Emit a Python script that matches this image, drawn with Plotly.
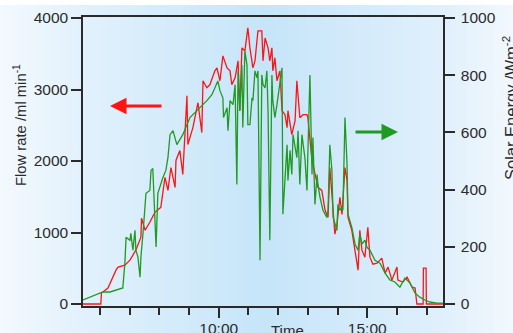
import plotly.graph_objects as go

# ---------------- data ----------------
flow_time = [5.43, 6.03, 6.05, 6.27, 6.54, 6.61, 6.84, 7.01, 7.21, 7.38, 7.40, 7.52, 7.68, 7.85, 8.05,
             8.19, 8.29, 8.39, 8.53, 8.56, 8.69, 8.79, 8.93, 8.96, 9.13, 9.30, 9.43, 9.47, 9.60, 9.70,
             9.87, 9.94, 10.04, 10.14, 10.28, 10.38, 10.44, 10.55, 10.65, 10.71, 10.78, 10.88, 10.98,
             11.05, 11.15, 11.22, 11.32, 11.45, 11.49, 11.56, 11.66, 11.72, 11.79, 11.82, 11.89, 11.96,
             12.06, 12.13, 12.23, 12.30, 12.33, 12.46, 12.57, 12.63, 12.73, 12.84, 12.97, 13.00, 13.14,
             13.24, 13.34, 13.47, 13.58, 13.68, 13.74, 13.81, 13.91, 13.98, 14.08, 14.15, 14.25, 14.32,
             14.35, 14.48, 14.59, 14.69, 14.75, 14.82, 14.92, 15.02, 15.09, 15.19, 15.33, 15.49, 15.60,
             15.70, 15.83, 16.00, 16.03, 16.20, 16.34, 16.51, 16.61, 16.67, 16.88, 16.89, 16.98, 16.99,
             17.55]
flow_rate = [0, 0, 153, 223, 474, 516, 544, 613, 753, 934, 1199, 1031, 1143, 1282, 1352,
             1770, 1589, 1909, 1631, 2007, 2146, 1812, 2913, 2230, 2467, 2815, 2397, 3122, 3024, 3066,
             3261, 3303, 3122, 3470, 3303, 3261, 3066, 3164, 3401, 2704, 3582, 3540, 3861,
             3582, 3303, 3401, 3819, 3819, 3401, 3721, 3582, 3401, 3582, 3261, 3442, 3122,
             3261, 2704, 2648, 2467, 2704, 2369, 2564, 3122, 2606, 2648, 2648, 2606, 2007,
             1812, 1631, 1589, 1310, 1213, 1909, 1533, 976, 1115, 1491, 1254, 1909, 1728,
             1213, 1031, 753, 474, 1031, 753, 655, 1073, 655, 557, 571, 641, 432,
             516, 334, 516, 334, 307, 376, 237, 223, 0, 0, 502, 502, 0,
             0]

solar_time = [5.43, 5.66, 5.87, 6.10, 6.34, 6.54, 6.77, 6.84, 6.88, 7.01,
              7.04, 7.11, 7.18, 7.21, 7.28, 7.35, 7.38, 7.45, 7.52, 7.55,
              7.68, 7.72, 7.78, 7.85, 7.89, 7.95, 8.05, 8.12, 8.22, 8.29,
              8.36, 8.46, 8.59, 8.79, 9.03, 9.13, 9.37, 9.60, 9.77, 9.97,
              10.04, 10.14, 10.16, 10.28, 10.31, 10.38, 10.48, 10.55, 10.61, 10.65,
              10.71, 10.78, 10.81, 10.88, 10.95, 10.98, 11.05, 11.12, 11.15, 11.22,
              11.29, 11.32, 11.39, 11.45, 11.49, 11.56, 11.62, 11.66, 11.72, 11.79,
              11.82, 11.89, 11.96, 11.99, 12.13, 12.16, 12.23, 12.30, 12.33, 12.40,
              12.46, 12.50, 12.63, 12.67, 12.73, 12.80, 12.90, 12.97, 13.00, 13.07,
              13.14, 13.17, 13.24, 13.31, 13.34, 13.41, 13.51, 13.64, 13.68, 13.74,
              13.81, 13.85, 13.98, 14.01, 14.08, 14.15, 14.18, 14.25, 14.32, 14.35,
              14.48, 14.59, 14.69, 14.75, 14.82, 14.92, 14.99, 15.09, 15.26, 15.43,
              15.60, 15.76, 15.93, 16.10, 16.27, 16.44, 16.61, 16.77, 16.94, 17.11,
              17.35, 17.55]
solar_energy = [14, 24, 31, 42, 42, 49, 56, 143, 233, 223,
                247, 188, 258, 188, 164, 94, 164, 247, 352, 387,
                397, 467, 474, 303, 199, 387, 422, 442, 467, 512,
                592, 606, 557, 592, 652, 662, 686, 711, 732, 780,
                746, 721, 652, 686, 606, 711, 697, 767, 418, 815,
                676, 836, 617, 885, 836, 627, 627, 721, 711, 815,
                791, 815, 153, 801, 767, 756, 815, 676, 223, 801,
                711, 652, 697, 721, 826, 314, 418, 557, 432, 537,
                453, 592, 512, 606, 418, 592, 512, 397, 523, 801,
                453, 582, 348, 453, 418, 373, 328, 303, 328, 557,
                467, 303, 258, 348, 328, 338, 328, 652, 488, 314,
                268, 209, 188, 244, 209, 223, 199, 188, 153, 143,
                108, 84, 77, 59, 91, 73, 38, 24, 14, 7,
                3, 3]

left_ticks = [0, 1000, 2000, 3000, 4000]
right_ticks = [0, 200, 400, 600, 800, 1000]
x_major = [10, 15]
x_major_text = ["10:00", "15:00"]
x_minor = [6, 7, 8, 9, 11, 12, 13, 14, 16, 17]

# ---------------- layout constants ----------------
W, H = 513, 333
ML, MR, MT, MB = 83, 70, 17, 27
PW, PH = W - ML - MR, H - MT - MB
FONT = "Arial, 'Liberation Sans', Helvetica, sans-serif"
TXT = "#2b2b2b"
AX = "#2a2a2a"

def px2paper_x(px):
    return (px - ML) / PW

def py2paper_y(py):
    return (H - MB - py) / PH

# horizontal background gradient (styling only)
stops = [(0, (243, 249, 254)), (83, (226, 241, 252)), (265, (198, 229, 249)),
         (443, (224, 240, 252)), (513, (242, 248, 254))]

def grad(px):
    for (a, ca), (b, cb) in zip(stops[:-1], stops[1:]):
        if a <= px <= b:
            t = (px - a) / (b - a)
            return tuple(round(ca[i] + (cb[i] - ca[i]) * t) for i in range(3))
    return stops[-1][1]

shapes = []
step = 3
for px in range(0, W, step):
    c = grad(px + step / 2)
    shapes.append(dict(type="rect", xref="paper", yref="paper", layer="below",
                       x0=px2paper_x(px), x1=px2paper_x(px + step + 0.6),
                       y0=py2paper_y(H + 2), y1=py2paper_y(5),
                       fillcolor="rgb(%d,%d,%d)" % c, line=dict(width=0)))

fig = go.Figure()
fig.add_trace(go.Scatter(x=flow_time, y=flow_rate, mode="lines", yaxis="y",
                         line=dict(color="#ff1414", width=1.3), showlegend=False))
fig.add_trace(go.Scatter(x=solar_time, y=solar_energy, mode="lines", yaxis="y2",
                         line=dict(color="#1f9a22", width=1.3), showlegend=False))

annotations = [
    # red arrow -> left axis
    dict(xref="paper", yref="paper", x=px2paper_x(110), y=py2paper_y(106),
         ax=53, ay=0, axref="pixel", ayref="pixel", text="", showarrow=True,
         arrowhead=2, arrowsize=1.1, arrowwidth=3, arrowcolor="#ff1414", standoff=0),
    # green arrow -> right axis
    dict(xref="paper", yref="paper", x=px2paper_x(398), y=py2paper_y(132),
         ax=-44, ay=0, axref="pixel", ayref="pixel", text="", showarrow=True,
         arrowhead=2, arrowsize=1.1, arrowwidth=3, arrowcolor="#1f9a22", standoff=0),
    dict(xref="paper", yref="paper", x=px2paper_x(287), y=py2paper_y(330),
         text="Time", showarrow=False, font=dict(family=FONT, size=15, color=TXT),
         xanchor="center", yanchor="middle"),
    dict(xref="paper", yref="paper", x=px2paper_x(20), y=py2paper_y(125),
         text="Flow rate /ml min<sup>-1</sup>", showarrow=False, textangle=-90,
         font=dict(family=FONT, size=14.8, color=TXT), xanchor="center", yanchor="middle"),
    dict(xref="paper", yref="paper", x=px2paper_x(510), y=py2paper_y(108),
         text="Solar Energy /Wm<sup>-2</sup>", showarrow=False, textangle=-90,
         font=dict(family=FONT, size=16.5, color=TXT), xanchor="center", yanchor="middle"),
]

fig.update_layout(
    width=W, height=H,
    margin=dict(l=ML, r=MR, t=MT, b=MB, pad=0, autoexpand=False),
    paper_bgcolor="white", plot_bgcolor="rgba(0,0,0,0)",
    font=dict(family=FONT, size=15.5, color=TXT),
    shapes=shapes, annotations=annotations, showlegend=False,
    xaxis=dict(range=[5.43, 17.55], showgrid=False, zeroline=False, automargin=False,
               showline=True, linecolor=AX, linewidth=1.5, mirror=True,
               ticks="outside", tickvals=x_major, ticktext=x_major_text,
               ticklen=10, tickwidth=1.5, tickcolor=AX, ticklabelstandoff=-2,
               minor=dict(tickvals=x_minor, ticks="outside", ticklen=7,
                          tickwidth=1.5, tickcolor=AX)),
    yaxis=dict(range=[-28, 4014], showgrid=False, zeroline=False, automargin=False,
               showline=True, linecolor=AX, linewidth=1.5,
               ticks="outside", tickvals=left_ticks, ticklen=10,
               tickwidth=1.5, tickcolor=AX),
    yaxis2=dict(range=[-7, 1003.5], overlaying="y", side="right", automargin=False,
                showgrid=False, zeroline=False,
                showline=True, linecolor=AX, linewidth=1.5,
                ticks="outside", tickvals=right_ticks, ticklen=10,
                tickwidth=1.5, tickcolor=AX, ticklabelstandoff=3),
)

fig.write_html("out.html")
